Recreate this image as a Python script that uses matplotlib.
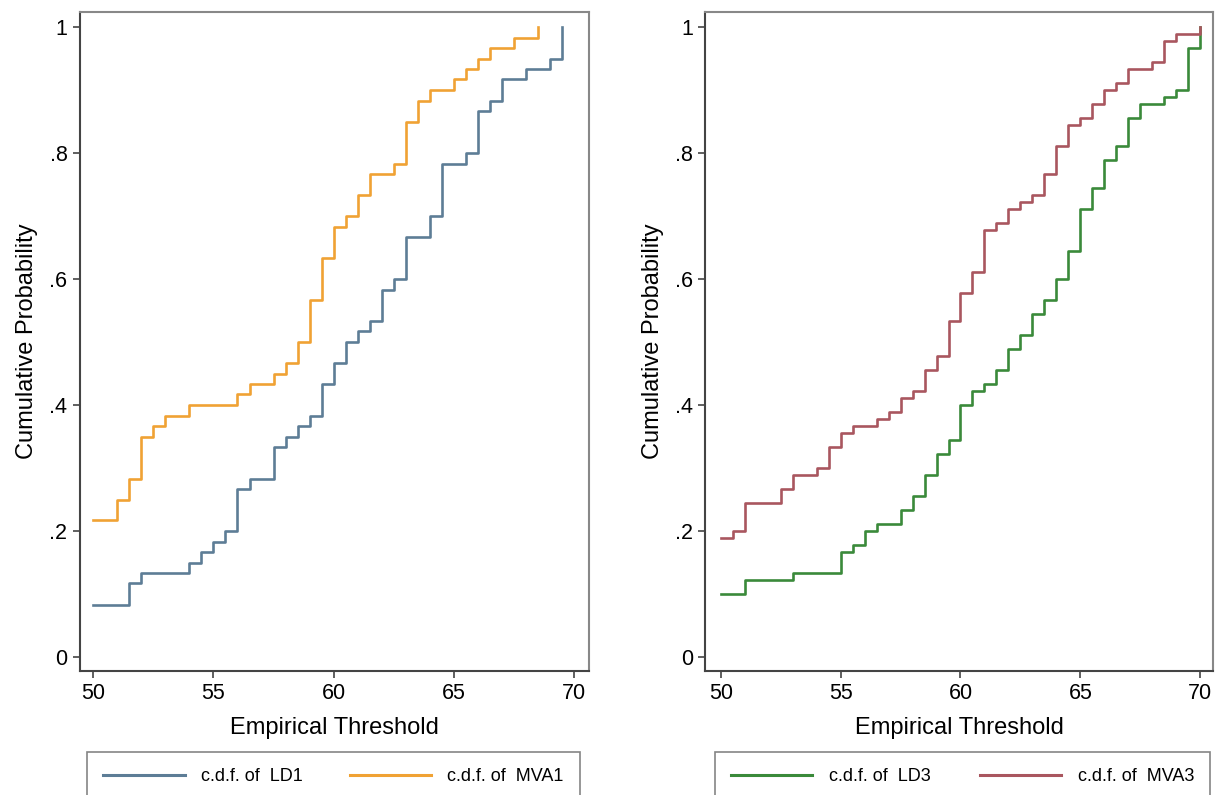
#!/usr/bin/env python3
# -*- coding: utf-8 -*-

"""
Deux panneaux de fonctions de repartition empiriques (style Stata)
"""

import matplotlib
matplotlib.use("Agg")
import matplotlib.pyplot as plt
from matplotlib.lines import Line2D

# Donnees : seuils ou la fonction saute, et valeur atteinte
ld1_x = [50, 51.5, 52, 54, 54.5, 55, 55.5, 56, 56.5, 57.5, 58, 58.5, 59, 59.5, 60,
         60.5, 61, 61.5, 62, 62.5, 63, 64, 64.5, 65.5, 66, 66.5, 67, 68, 69, 69.5]
ld1_y = [0.083, 0.117, 0.133, 0.150, 0.167, 0.183, 0.200, 0.267, 0.283, 0.333, 0.350,
         0.367, 0.383, 0.433, 0.467, 0.500, 0.517, 0.533, 0.583, 0.600, 0.667, 0.700,
         0.783, 0.800, 0.867, 0.883, 0.917, 0.933, 0.950, 1.0]

mva1_x = [50, 51, 51.5, 52, 52.5, 53, 54, 56, 56.5, 57.5, 58, 58.5, 59, 59.5, 60,
          60.5, 61, 61.5, 62.5, 63, 63.5, 64, 65, 65.5, 66, 66.5, 67.5, 68.5]
mva1_y = [0.217, 0.250, 0.283, 0.350, 0.367, 0.383, 0.400, 0.417, 0.433, 0.450, 0.467,
          0.500, 0.567, 0.633, 0.683, 0.700, 0.733, 0.767, 0.783, 0.850, 0.883, 0.900,
          0.917, 0.933, 0.950, 0.967, 0.983, 1.0]

ld3_x = [50, 51, 53, 55, 55.5, 56, 56.5, 57.5, 58, 58.5, 59, 59.5, 60, 60.5, 61,
         61.5, 62, 62.5, 63, 63.5, 64, 64.5, 65, 65.5, 66, 66.5, 67, 67.5, 68.5, 69,
         69.5, 70]
ld3_y = [0.100, 0.122, 0.133, 0.167, 0.178, 0.200, 0.211, 0.233, 0.256, 0.289, 0.322,
         0.344, 0.400, 0.422, 0.433, 0.456, 0.489, 0.511, 0.544, 0.567, 0.600, 0.644,
         0.711, 0.744, 0.789, 0.811, 0.856, 0.878, 0.889, 0.900, 0.967, 1.0]

mva3_x = [50, 50.5, 51, 52.5, 53, 54, 54.5, 55, 55.5, 56.5, 57, 57.5, 58, 58.5, 59,
          59.5, 60, 60.5, 61, 61.5, 62, 62.5, 63, 63.5, 64, 64.5, 65, 65.5, 66, 66.5,
          67, 68, 68.5, 69, 70]
mva3_y = [0.189, 0.200, 0.244, 0.267, 0.289, 0.300, 0.333, 0.356, 0.367, 0.378, 0.389,
          0.411, 0.422, 0.456, 0.478, 0.533, 0.578, 0.611, 0.678, 0.689, 0.711, 0.722,
          0.733, 0.767, 0.811, 0.844, 0.856, 0.878, 0.900, 0.911, 0.933, 0.944, 0.978,
          0.989, 1.0]

x_ticks = [50, 55, 60, 65, 70]
y_ticks = [0, 0.2, 0.4, 0.6, 0.8, 1.0]
y_ticklabels = ["0", ".2", ".4", ".6", ".8", "1"]

# Couleurs
c_blue = "#5d7d96"
c_orange = "#f0a234"
c_green = "#3a8a3a"
c_red = "#a9565f"

plt.rcParams["font.family"] = ["Liberation Sans Narrow", "Liberation Sans", "DejaVu Sans"]

fig = plt.figure(figsize=(12.17, 7.95), dpi=100)

panels = [
   ([0.0657, 0.156, 0.418, 0.829], (49.45, 70.6),
    [(ld1_x, ld1_y, c_blue, "c.d.f. of  LD1"), (mva1_x, mva1_y, c_orange, "c.d.f. of  MVA1")],
    [0.0715, -0.01, 0.405, 0.064]),
   ([0.5795, 0.156, 0.4175, 0.829], (49.35, 70.55),
    [(ld3_x, ld3_y, c_green, "c.d.f. of  LD3"), (mva3_x, mva3_y, c_red, "c.d.f. of  MVA3")],
    [0.5875, -0.01, 0.407, 0.064]),
]

for rect, xlim, series, legbox in panels:
   ax = fig.add_axes(rect)
   handles = []
   for xs, ys, col, lab in series:
      ax.step(xs, ys, where="post", color=col, lw=1.9)
      handles.append(Line2D([], [], color=col, lw=2.2, label=lab))
   ax.set_xlim(*xlim)
   ax.set_ylim(-0.022, 1.024)
   ax.set_xticks(x_ticks)
   ax.set_yticks(y_ticks)
   ax.set_yticklabels(y_ticklabels)
   ax.tick_params(direction="out", length=5, width=1.2, labelsize=15.5, color="#444", pad=4)
   for s in ["left", "bottom"]:
      ax.spines[s].set_color("#444")
      ax.spines[s].set_linewidth(1.5)
   for s in ["top", "right"]:
      ax.spines[s].set_color("#888")
      ax.spines[s].set_linewidth(1.5)
   ax.set_xlabel("Empirical Threshold", fontsize=17, labelpad=9)
   ax.set_ylabel("Cumulative Probability", fontsize=17, labelpad=8)
   leg = fig.legend(handles=handles, loc="upper left", bbox_to_anchor=legbox,
                    mode="expand", ncol=2, frameon=True, fancybox=False,
                    edgecolor="#666", fontsize=13, handlelength=4.5, handletextpad=0.9,
                    borderaxespad=0, borderpad=0.9, columnspacing=2)
   leg.get_frame().set_linewidth(1.2)

fig.savefig("out.png", dpi=100)
